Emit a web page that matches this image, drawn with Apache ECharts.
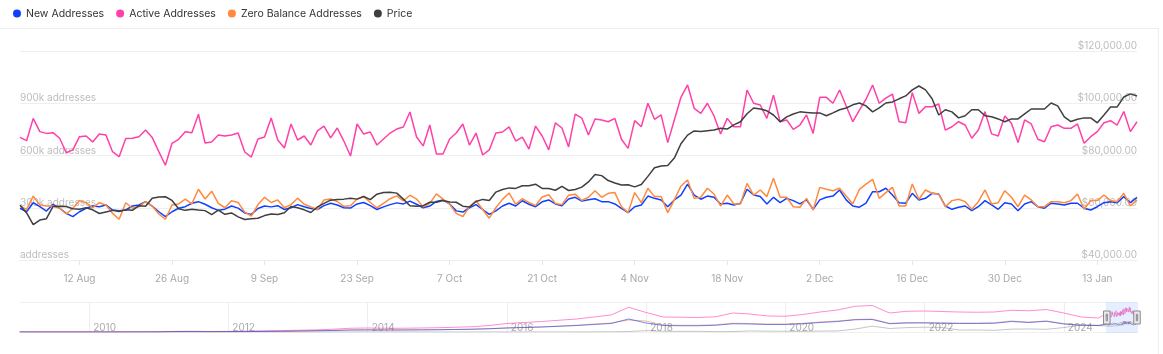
<!DOCTYPE html>
<html>
<head>
<meta charset="utf-8">
<script src="https://cdn.jsdelivr.net/npm/echarts@6/dist/echarts.min.js"></script>
<style>
  html, body { margin: 0; padding: 0; background: #fff; }
  #chart { width: 1163px; height: 354px; }
</style>
</head>
<body>
<div id="chart"></div>
<script>
// main window: one point per day, 3 Aug 2024 .. 19 Jan 2025
var startDay = Date.UTC(2024, 7, 3);
var dayCount = 170;
var monthNames = ['Jan', 'Feb', 'Mar', 'Apr', 'May', 'Jun', 'Jul', 'Aug', 'Sep', 'Oct', 'Nov', 'Dec'];

// addresses in thousands
var newAddresses = [
  297, 277, 329, 306, 281, 320, 297, 268, 249, 277, 297, 310, 306, 316, 287, 283, 287, 310, 316, 335, 310, 277, 249, 277, 297, 306, 326, 335,
  320, 300, 285, 292, 310, 298, 270, 262, 296, 310, 305, 312, 290, 300, 318, 306, 296, 290, 312, 326,
  316, 300, 298, 322, 330, 312, 290, 305, 318, 328, 322, 338, 320, 300, 310, 336, 344, 322, 282, 275,
  300, 318, 290, 262, 282, 310, 326, 310, 340, 320, 306, 334, 345, 322, 312, 350, 360, 338, 346, 352,
  335, 335, 322, 297, 272, 306, 316, 367, 354, 345, 306, 345, 373, 436, 373, 349, 367, 360, 322, 326,
  316, 326, 406, 373, 364, 322, 360, 329, 354, 341, 322, 345, 291, 345, 360, 367, 402, 345, 310, 303,
  326, 392, 392, 412, 373, 329, 326, 383, 345, 354, 383, 379, 310, 291, 303, 310, 283, 306, 341, 316,
  291, 329, 322, 283, 322, 335, 306, 297, 326,
  322, 316, 326, 326, 297, 287, 306, 329, 335, 329, 364, 329, 360
];
var activeAddresses = [
  704, 685, 813, 737, 727, 731, 699, 616, 632, 708, 712, 678, 724, 718, 622, 593, 697, 699, 708, 746, 704, 622, 544, 670, 693, 737, 731, 837,
  672, 678, 718, 712, 718, 729, 620, 591, 695, 706, 815, 689, 643, 781, 689, 712, 660, 741, 769, 701,
  758, 683, 597, 781, 723, 735, 660, 695, 729, 752, 764, 850, 706, 655, 775, 609, 609, 695, 729, 781,
  660, 729, 603, 632, 729, 735, 764, 683, 706, 637, 769, 712, 632, 787, 758, 649, 838, 815, 718, 810,
  804, 794, 813, 693, 641, 800, 765, 900, 808, 833, 674, 804, 934, 1005, 871, 842, 900, 827, 724, 813,
  765, 765, 976, 900, 890, 813, 947, 794, 804, 750, 775, 833, 727, 934, 934, 900, 976, 884, 794, 861,
  923, 1005, 900, 929, 953, 794, 788, 961, 842, 880, 880, 896, 746, 765, 794, 775, 699, 746, 852, 724,
  712, 827, 785, 674, 804, 781, 693, 679, 765,
  775, 756, 756, 781, 670, 708, 737, 788, 800, 775, 852, 737, 794
];
var zeroBalanceAddresses = [
  310, 291, 367, 316, 310, 310, 297, 264, 297, 341, 329, 300, 329, 316, 268, 234, 329, 297, 306, 335, 310, 264, 234, 316, 322, 349, 322, 406,
  350, 395, 325, 300, 340, 330, 275, 252, 318, 360, 330, 345, 300, 318, 355, 320, 305, 290, 345, 350,
  336, 308, 312, 350, 365, 330, 300, 325, 352, 368, 340, 372, 350, 305, 325, 380, 350, 320, 268, 250,
  305, 340, 290, 240, 300, 348, 385, 320, 352, 330, 312, 362, 375, 325, 318, 372, 378, 342, 360, 398,
  360, 383, 387, 306, 272, 387, 329, 412, 364, 364, 272, 345, 425, 459, 354, 360, 412, 379, 310, 373,
  322, 322, 440, 373, 402, 364, 469, 360, 360, 306, 303, 354, 287, 417, 406, 398, 412, 367, 322, 406,
  436, 463, 354, 387, 417, 310, 310, 436, 349, 402, 383, 379, 306, 341, 349, 335, 291, 335, 402, 322,
  329, 398, 360, 306, 373, 345, 306, 306, 335,
  335, 329, 341, 379, 291, 341, 341, 373, 341, 335, 383, 310, 345
];
// USD
var price = [
  61000, 58000, 53500, 55300, 55800, 60500, 60600, 60500, 59600, 59400,
  60000, 59200, 57800, 58400, 59000, 58600, 59200, 59000, 60800, 60600,
  63600, 64100, 64200, 62800, 59600, 59000, 59400, 59100, 58900, 57400,
  59100, 57500, 58000, 56500, 55500, 55800, 56000, 57000, 57600, 57400,
  58100, 60500, 60000, 59200, 58200, 60300, 61700, 62900, 63200, 63300,
  63600, 63300, 64300, 63100, 65200, 65800, 65900, 65600, 63300, 60800,
  60600, 60800, 62100, 62100, 62800, 62200, 62100, 60600, 60300, 62400,
  63200, 62800, 66000, 67000, 67600, 67400, 68400, 68400, 69000, 67400,
  67400, 66700, 68200, 66600, 67000, 67900, 69900, 72700, 72300, 70400,
  69500, 68700, 68800, 68000, 68900, 72000, 75300, 76000, 76200, 79000,
  84500, 87800, 89400, 89200, 89500, 89800, 90400, 90100, 91700, 92900,
  96000, 98200, 97800, 97100, 95500, 92900, 94800, 95900, 96700, 96500,
  96300, 96300, 95200, 96300, 97500, 98200, 99400, 100100, 99000, 96700,
  98200, 100100, 100500, 101700, 102800, 105100, 106600, 105100, 101700, 95500,
  97500, 96700, 94400, 95200, 97500, 97500, 95200, 94800, 94000, 92900,
  94000, 94000, 95900, 97800, 97800, 97800, 100100, 99000, 94800, 93000,
  93900, 94400, 94400, 92500, 95500, 98600, 98600, 102400, 103600, 102800
];

// overview strip: quarterly history from Q1 2009 to Q3 2024, then the daily window
var histActive = [
  0.1, 0.3, 0.4, 0.6, 0.7, 1, 2, 3, 8, 25, 30, 20, 25, 35, 45, 55,
  70, 85, 110, 150, 160, 150, 150, 160, 170, 190, 210, 260, 340, 380, 420, 470,
  520, 600, 680, 990, 780, 600, 590, 580, 610, 760, 720, 640, 630, 700, 800, 880,
  1030, 1060, 760, 830, 840, 820, 800, 790, 800, 870, 850, 900, 760, 600, 560
];
var histNew = [
  0.1, 0.2, 0.3, 0.4, 0.5, 0.7, 1, 2, 5, 15, 15, 12, 15, 20, 25, 30,
  40, 50, 60, 80, 85, 80, 80, 85, 90, 100, 110, 130, 160, 180, 200, 230,
  260, 300, 340, 520, 360, 260, 250, 250, 270, 330, 320, 300, 300, 330, 380, 420,
  490, 500, 330, 360, 360, 350, 340, 340, 350, 420, 380, 430, 320, 270, 260
];
var histZero = [
  0, 0.1, 0.1, 0.2, 0.3, 0.5, 0.8, 1.5, 4, 12, 14, 11, 14, 18, 22, 28,
  36, 48, 58, 78, 84, 80, 82, 86, 92, 102, 115, 135, 165, 185, 205, 235,
  270, 320, 360, 480, 440, 280, 270, 270, 290, 350, 340, 320, 320, 350, 400, 440,
  500, 520, 350, 380, 380, 370, 360, 360, 370, 440, 400, 440, 340, 280, 270
];
var histPrice = [
  0, 0, 0, 0, 0, 0.05, 0.06, 0.3, 0.9, 9, 5, 3, 5, 5, 10, 13,
  13, 100, 100, 200, 800, 450, 600, 380, 320, 250, 260, 240, 430, 420, 670, 610,
  1000, 1100, 2500, 4400, 13500, 6900, 6400, 6600, 3700, 4100, 10600, 8300, 7200, 6400, 9200, 10600,
  29000, 58800, 35000, 43800, 47700, 45500, 19400, 20300, 16600, 28500, 30500, 27000, 44200, 69700, 62700
];
var overviewYears = [2010, 2012, 2014, 2016, 2018, 2020, 2022, 2024];

var DAY = 86400000;
var dates = [];
var dayStamps = [];
for (var i = 0; i < dayCount; i++) {
  var d = new Date(startDay + i * DAY);
  dayStamps.push(startDay + i * DAY);
  dates.push(d.getUTCDate() + ' ' + monthNames[d.getUTCMonth()]);
}
var firstTick = 9; // 12 Aug, then every two weeks
function onTick(idx) { return idx >= firstTick && (idx - firstTick) % 14 === 0; }

function overview(hist, daily) {
  var out = [];
  for (var k = 0; k < hist.length; k++) {
    out.push([Date.UTC(2009 + Math.floor(k / 4), (k % 4) * 3, 1), hist[k]]);
  }
  for (var j = 0; j < daily.length; j++) out.push([dayStamps[j], daily[j]]);
  return out;
}

var overviewMin = Date.UTC(2009, 0, 3);
var overviewMax = dayStamps[dayCount - 1];
var yearStamps = overviewYears.map(function (y) { return Date.UTC(y, 0, 1); });

var colors = { New: '#1040ff', Active: '#ff40a8', Zero: '#ff8a3d', Price: '#3f3f3f' };

var myChart = echarts.init(document.getElementById('chart'));
var option = {
  animation: false,
  textStyle: { fontFamily: 'Inter, sans-serif' },
  legend: {
    left: 13,
    top: 8,
    padding: 0,
    icon: 'circle',
    itemWidth: 8,
    itemHeight: 8,
    itemGap: 12,
    textStyle: { fontSize: 10.5, color: '#333' },
    data: ['New Addresses', 'Active Addresses', 'Zero Balance Addresses', 'Price']
  },
  graphic: [
    { type: 'line', shape: { x1: 0, y1: 28.5, x2: 1158, y2: 28.5 }, style: { stroke: '#eeeeee', lineWidth: 1 } },
    { type: 'line', shape: { x1: 1158.5, y1: 28, x2: 1158.5, y2: 354 }, style: { stroke: '#eeeeee', lineWidth: 1 } }
  ],
  grid: [
    { left: 20, right: 26, top: 51, bottom: 94 },
    { left: 20, right: 26, top: 302, height: 30 }
  ],
  xAxis: [
    {
      type: 'category',
      gridIndex: 0,
      data: dates,
      boundaryGap: false,
      axisLine: { lineStyle: { color: '#eeeeee' } },
      axisTick: { interval: onTick, length: 5, lineStyle: { color: '#e6e6e6' } },
      axisLabel: { interval: onTick, margin: 14, fontSize: 10, color: '#a8a8a8' }
    },
    {
      type: 'value',
      gridIndex: 1,
      min: overviewMin,
      max: overviewMax,
      axisLine: { show: false },
      axisTick: { show: false, customValues: yearStamps },
      splitLine: { show: true, lineStyle: { color: '#eeeeee' } },
      axisLabel: {
        customValues: yearStamps,
        inside: true,
        margin: -1,
        lineHeight: 10,
        align: 'left',
        padding: [0, 0, 0, 4],
        fontSize: 10,
        color: '#aaaaaa',
        formatter: function (v) { return String(new Date(v).getUTCFullYear()); }
      }
    },
    { type: 'value', gridIndex: 1, min: overviewMin, max: overviewMax, show: false }
  ],
  yAxis: [
    {
      type: 'value',
      gridIndex: 0,
      min: 0,
      max: 1200,
      interval: 300,
      axisLine: { show: false },
      axisTick: { show: false },
      splitLine: { lineStyle: { color: '#eeeeee' } },
      axisLabel: {
        inside: true,
        margin: 0,
        showMaxLabel: false,
        verticalAlign: 'bottom',
        lineHeight: 10,
        fontSize: 10,
        color: '#bdbdbd',
        formatter: function (v) { return v === 0 ? 'addresses' : v + 'k addresses'; }
      }
    },
    {
      type: 'value',
      gridIndex: 0,
      position: 'right',
      min: 40000,
      max: 120000,
      interval: 20000,
      axisLine: { show: false },
      axisTick: { show: false },
      splitLine: { show: false },
      axisLabel: {
        inside: true,
        margin: 0,
        verticalAlign: 'bottom',
        lineHeight: 10,
        fontSize: 10,
        color: '#bdbdbd',
        formatter: function (v) {
          return '$' + v.toLocaleString('en-US', { minimumFractionDigits: 2, maximumFractionDigits: 2 });
        }
      }
    },
    {
      type: 'value',
      gridIndex: 1,
      min: 0,
      max: 1200,
      interval: 1200,
      axisLine: { show: false },
      axisTick: { show: false },
      axisLabel: { show: false },
      splitLine: { lineStyle: { color: '#f0f0f0' } }
    },
    { type: 'value', gridIndex: 1, min: 0, max: 300000, show: false }
  ],
  dataZoom: [
    {
      type: 'slider',
      xAxisIndex: 2,
      filterMode: 'none',
      startValue: startDay,
      endValue: overviewMax,
      left: 20,
      right: 26,
      top: 302,
      height: 31,
      showDetail: false,
      showDataShadow: false,
      brushSelect: false,
      moveHandleSize: 0,
      backgroundColor: 'transparent',
      borderColor: 'transparent',
      fillerColor: 'rgba(167,196,255,0.28)',
      handleIcon: 'path://M0,0H10V20H0Z M4,5V15H6V5Z',
      handleSize: '42%',
      handleStyle: { color: '#e8e8e8', borderColor: '#8c8c8c', borderWidth: 1 }
    }
  ],
  series: [
    { name: 'New Addresses', type: 'line', xAxisIndex: 0, yAxisIndex: 0, data: newAddresses, showSymbol: false, color: colors.New, lineStyle: { width: 1.5 } },
    { name: 'Active Addresses', type: 'line', xAxisIndex: 0, yAxisIndex: 0, data: activeAddresses, showSymbol: false, color: colors.Active, lineStyle: { width: 1.5 } },
    { name: 'Zero Balance Addresses', type: 'line', xAxisIndex: 0, yAxisIndex: 0, data: zeroBalanceAddresses, showSymbol: false, color: colors.Zero, lineStyle: { width: 1.5 } },
    { name: 'Price', type: 'line', xAxisIndex: 0, yAxisIndex: 1, data: price, showSymbol: false, color: colors.Price, lineStyle: { width: 1.5 } },

    { name: 'Active Addresses', type: 'line', xAxisIndex: 1, yAxisIndex: 2, data: overview(histActive, activeAddresses), showSymbol: false, color: colors.Active, lineStyle: { width: 1, opacity: 0.6 }, silent: true },
    { name: 'Price', type: 'line', xAxisIndex: 1, yAxisIndex: 3, data: overview(histPrice, price), showSymbol: false, color: colors.Price, lineStyle: { width: 1, opacity: 0.3 }, silent: true },
    { name: 'Zero Balance Addresses', type: 'line', xAxisIndex: 1, yAxisIndex: 2, data: overview(histZero, zeroBalanceAddresses), showSymbol: false, color: colors.Zero, lineStyle: { width: 1, opacity: 0.6 }, silent: true },
    { name: 'New Addresses', type: 'line', xAxisIndex: 1, yAxisIndex: 2, data: overview(histNew, newAddresses), showSymbol: false, color: colors.New, lineStyle: { width: 1, opacity: 0.6 }, silent: true }
  ]
};
myChart.setOption(option, true);
</script>
</body>
</html>
